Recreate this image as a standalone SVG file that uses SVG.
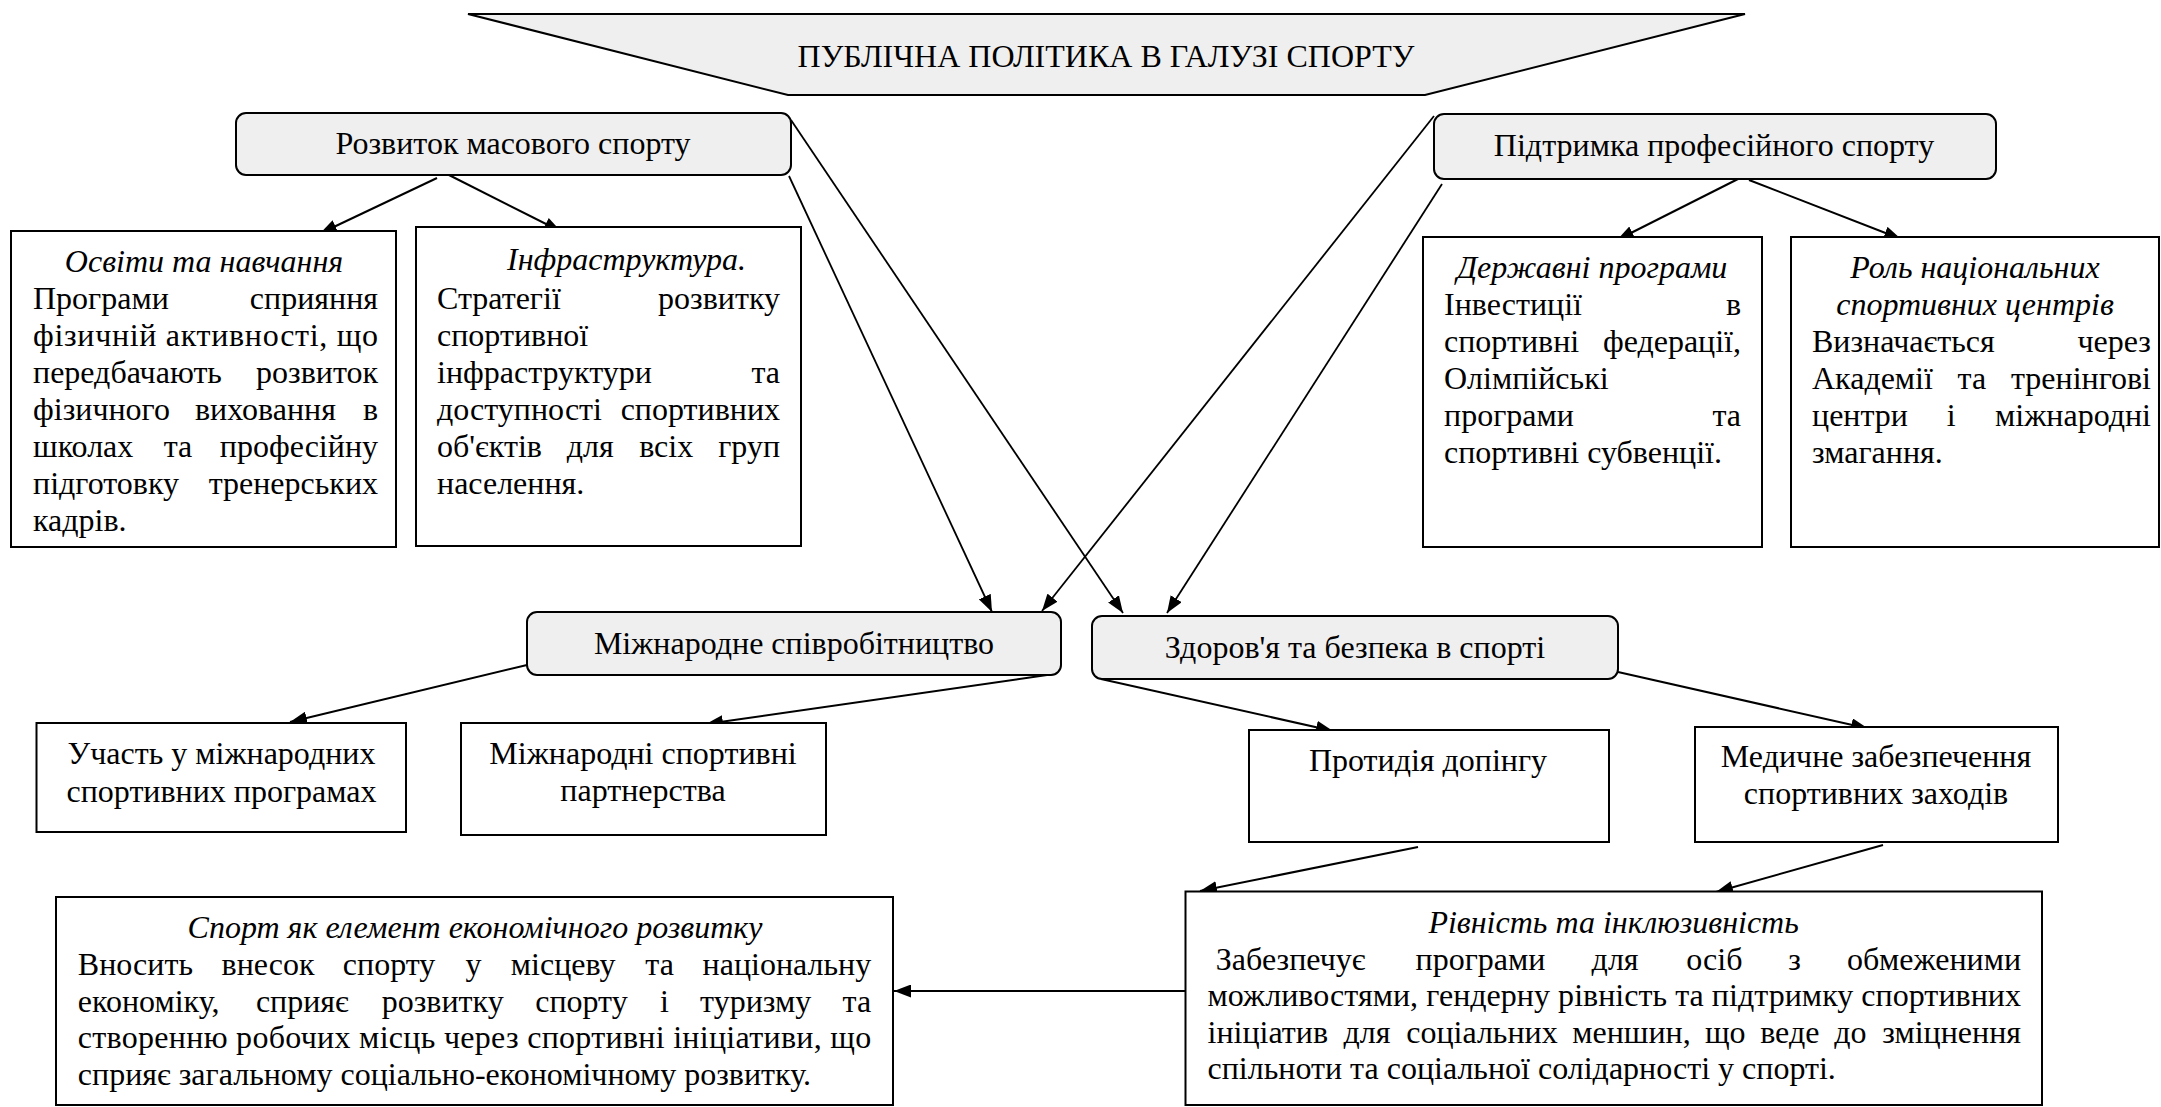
<svg xmlns="http://www.w3.org/2000/svg" width="2161" height="1107" viewBox="0 0 2161 1107">
<style>
text{font-family:"Liberation Serif","Times New Roman",serif;font-size:32px;fill:#000}
.i{font-style:italic}
.m{text-anchor:middle}
.r{text-anchor:end}
.box{fill:#fff;stroke:#000;stroke-width:2}
.gr{fill:#efefef;stroke:#000;stroke-width:2}
.c{stroke:#000;stroke-width:2;fill:none;marker-end:url(#ah)}
.cl{stroke:#000;stroke-width:1.8;fill:none;marker-end:url(#ah)}
</style>
<defs>
<marker id="ah" markerUnits="userSpaceOnUse" markerWidth="17" markerHeight="13" refX="17" refY="6.5" viewBox="0 0 17 13" orient="auto">
<path d="M0,0 L17,6.5 L0,13 z" fill="#000"/>
</marker>
</defs>
<rect width="2161" height="1107" fill="#fff"/>
<g id="connectors">
<path class="c" d="M437,178 L320,233.5"/>
<path class="c" d="M445,173 L561,231.5"/>
<path class="cl" d="M791,120 L1123,613"/>
<path class="cl" d="M789,176 L992,612"/>
<path class="cl" d="M1434,116 L1042,611"/>
<path class="cl" d="M1442,184 L1167,613"/>
<path class="c" d="M1738,179 L1617,240"/>
<path class="c" d="M1749,180 L1901,239"/>
<path class="c" d="M527,665 L290,722"/>
<path class="c" d="M1047,675 L706,724"/>
<path class="c" d="M1101,679 L1333,731"/>
<path class="c" d="M1618,672 L1868,728.5"/>
<path class="c" d="M1418,847 L1200,891"/>
<path class="c" d="M1883,845 L1716,892"/>
<path class="c" d="M1185,991 L894,991"/>
</g>
<g id="n-banner">
<polygon class="gr" points="468,14 1745,14 1425,95 788,95"/>
<text class="m" x="1106" y="67">ПУБЛІЧНА ПОЛІТИКА В ГАЛУЗІ СПОРТУ</text>
</g>
<g id="n-mass">
<rect class="gr" x="236" y="113" width="555" height="62" rx="10"/>
<text class="m" x="513" y="154">Розвиток масового спорту</text>
</g>
<g id="n-pro">
<rect class="gr" x="1434" y="114" width="562" height="65" rx="10"/>
<text class="m" x="1714" y="156">Підтримка професійного спорту</text>
</g>
<g id="n-edu">
<rect class="box" x="11" y="231" width="385" height="316"/>
<text class="i m" x="204" y="272">Освіти та навчання</text>
<text x="33" y="309">Програми</text><text class="r" x="378" y="309">сприяння</text>
<text x="33" y="346" textLength="345" lengthAdjust="spacing">фізичній активності, що</text>
<text x="33" y="383">передбачають</text><text class="r" x="378" y="383">розвиток</text>
<text x="33" y="420">фізичного</text><text x="195" y="420">виховання</text><text class="r" x="378" y="420">в</text>
<text x="33" y="457">школах</text><text x="163.7" y="457">та</text><text class="r" x="378" y="457">професійну</text>
<text x="33" y="494">підготовку</text><text class="r" x="378" y="494">тренерських</text>
<text x="33" y="531">кадрів.</text>
</g>
<g id="n-infra">
<rect class="box" x="416" y="227" width="385" height="319"/>
<text class="i" x="507" y="270">Інфраструктура.</text>
<text x="437" y="309">Стратегії</text><text class="r" x="780" y="309">розвитку</text>
<text x="437" y="346">спортивної</text>
<text x="437" y="383">інфраструктури</text><text class="r" x="780" y="383">та</text>
<text x="437" y="420">доступності</text><text class="r" x="780" y="420">спортивних</text>
<text x="437" y="457">об'єктів</text><text x="566.8" y="457">для</text><text x="639.2" y="457">всіх</text><text class="r" x="780" y="457">груп</text>
<text x="437" y="494">населення.</text>
</g>
<g id="n-state">
<rect class="box" x="1423" y="237" width="339" height="310"/>
<text class="i m" x="1592" y="278">Державні програми</text>
<text x="1444" y="315">Інвестиції</text><text class="r" x="1741" y="315">в</text>
<text x="1444" y="352">спортивні</text><text class="r" x="1741" y="352">федерації,</text>
<text x="1444" y="389">Олімпійські</text>
<text x="1444" y="426">програми</text><text class="r" x="1741" y="426">та</text>
<text x="1444" y="463">спортивні субвенції.</text>
</g>
<g id="n-centres">
<rect class="box" x="1791" y="237" width="368" height="310"/>
<text class="i m" x="1975" y="278">Роль національних</text>
<text class="i m" x="1975" y="315">спортивних центрів</text>
<text x="1812" y="352">Визначається</text><text class="r" x="2151" y="352">через</text>
<text x="1812" y="389">Академії</text><text x="1957.5" y="389">та</text><text class="r" x="2151" y="389">тренінгові</text>
<text x="1812" y="426">центри</text><text x="1946.8" y="426">і</text><text class="r" x="2151" y="426">міжнародні</text>
<text x="1812" y="463">змагання.</text>
</g>
<g id="n-intl">
<rect class="gr" x="527" y="612" width="534" height="63" rx="10"/>
<text class="m" x="794" y="654">Міжнародне співробітництво</text>
</g>
<g id="n-health">
<rect class="gr" x="1092" y="616" width="526" height="63" rx="10"/>
<text class="m" x="1355" y="658">Здоров'я та безпека в спорті</text>
</g>
<g id="n-participation">
<rect class="box" x="36.5" y="723" width="369.5" height="109"/>
<text class="m" x="221.5" y="764">Участь у міжнародних</text>
<text class="m" x="221.5" y="802">спортивних програмах</text>
</g>
<g id="n-partnership">
<rect class="box" x="461" y="723" width="365" height="112"/>
<text class="m" x="643" y="764">Міжнародні спортивні</text>
<text class="m" x="643" y="801">партнерства</text>
</g>
<g id="n-doping">
<rect class="box" x="1249" y="730" width="360" height="112"/>
<text class="m" x="1428" y="771">Протидія допінгу</text>
</g>
<g id="n-medical">
<rect class="box" x="1695" y="727" width="363" height="115"/>
<text class="m" x="1876" y="767">Медичне забезпечення</text>
<text class="m" x="1876" y="804">спортивних заходів</text>
</g>
<g id="n-econ">
<rect class="box" x="56" y="897" width="837" height="208"/>
<text class="i m" x="475" y="938">Спорт як елемент економічного розвитку</text>
<text y="975"><tspan x="77.8">Вносить</tspan><tspan x="221.6">внесок</tspan><tspan x="342.8">спорту</tspan><tspan x="465.5">у</tspan><tspan x="510.8">місцеву</tspan><tspan x="645.3">та</tspan></text><text class="r" x="871.2" y="975">національну</text>
<text y="1011.5"><tspan x="77.8">економіку,</tspan><tspan x="255.9">сприяє</tspan><tspan x="381.7">розвитку</tspan><tspan x="535.2">спорту</tspan><tspan x="659.9">і</tspan><tspan x="700.1">туризму</tspan></text><text class="r" x="871.2" y="1011.5">та</text>
<text x="77.8" y="1048" textLength="793.4" lengthAdjust="spacing">створенню робочих місць через спортивні ініціативи, що</text>
<text x="77.8" y="1084.5">сприяє загальному соціально-економічному розвитку.</text>
</g>
<g id="n-equality">
<rect class="box" x="1185.5" y="891.5" width="856.5" height="213.5"/>
<text class="i m" x="1613.6" y="933">Рівність та інклюзивність</text>
<text y="969.5"><tspan x="1215.8">Забезпечує</tspan><tspan x="1415.5">програми</tspan><tspan x="1591.6">для</tspan><tspan x="1686.3">осіб</tspan><tspan x="1788.3">з</tspan></text><text class="r" x="2021" y="969.5">обмеженими</text>
<text x="1207.5" y="1006" textLength="813.5" lengthAdjust="spacing">можливостями, гендерну рівність та підтримку спортивних</text>
<text y="1042.5"><tspan x="1207.5">ініціатив</tspan><tspan x="1343.5">для</tspan><tspan x="1406.2">соціальних</tspan><tspan x="1572.2">меншин,</tspan><tspan x="1704.9">що</tspan><tspan x="1760.2">веде</tspan><tspan x="1834.3">до</tspan></text><text class="r" x="2021" y="1042.5">зміцнення</text>
<text x="1207.5" y="1079">спільноти та соціальної солідарності у спорті.</text>
</g>
</svg>
